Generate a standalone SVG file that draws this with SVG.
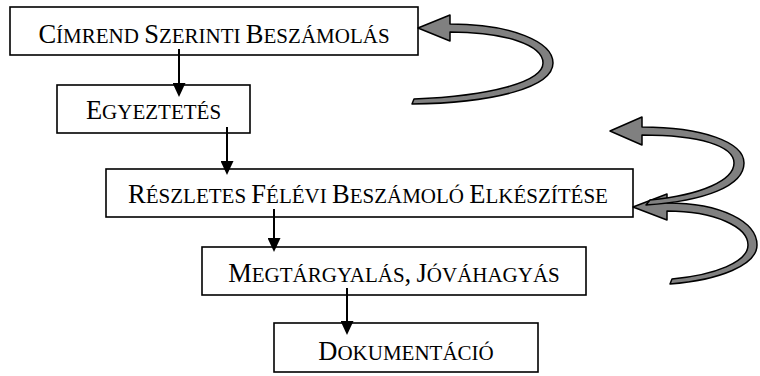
<svg xmlns="http://www.w3.org/2000/svg" width="760" height="376" viewBox="0 0 760 376">
<defs>
<style>
.box{fill:#fff;stroke:#000;stroke-width:1.6}
.lbl{font-family:"Liberation Serif","Times New Roman",serif;font-size:21px;fill:#000;text-anchor:middle}
.cap{font-size:26.5px}
.con{stroke:#000;stroke-width:2;fill:none}
.loop{fill:#808080;stroke:#000;stroke-width:1.5;stroke-linejoin:round}
</style>
<marker id="ah" markerUnits="userSpaceOnUse" markerWidth="14" markerHeight="13" refX="8" refY="6.5" orient="auto">
<path d="M0,0 L14,6.5 L0,13 Z" fill="#000"/>
</marker>
</defs>
<rect width="760" height="376" fill="#fff"/>
<g id="n1">
<rect class="box" x="10" y="7" width="408" height="48"/>
<text class="lbl" x="214" y="43"><tspan class="cap">C</tspan>ÍMREND <tspan class="cap">S</tspan>ZERINTI <tspan class="cap">B</tspan>ESZÁMOLÁS</text>
</g>
<g id="n2">
<rect class="box" x="57" y="85" width="193" height="48"/>
<text class="lbl" x="153.5" y="119"><tspan class="cap">E</tspan>GYEZTETÉS</text>
</g>
<g id="n3">
<rect class="box" x="106" y="169" width="527" height="48"/>
<text class="lbl" x="368" y="203"><tspan class="cap">R</tspan>ÉSZLETES <tspan class="cap">F</tspan>ÉLÉVI <tspan class="cap">B</tspan>ESZÁMOLÓ <tspan class="cap">E</tspan>LKÉSZÍTÉSE</text>
</g>
<g id="n4">
<rect class="box" x="202" y="247" width="384" height="48"/>
<text class="lbl" x="394" y="282"><tspan class="cap">M</tspan>EGTÁRGYALÁS<tspan class="cap">,</tspan> <tspan class="cap">J</tspan>ÓVÁHAGYÁS</text>
</g>
<g id="n5">
<rect class="box" x="274" y="323" width="264" height="49"/>
<text class="lbl" x="406" y="360"><tspan class="cap">D</tspan>OKUMENTÁCIÓ</text>
</g>
<g id="connectors">
<line class="con" x1="179" y1="49" x2="179" y2="91" marker-end="url(#ah)"/>
<line class="con" x1="227" y1="127" x2="227" y2="169" marker-end="url(#ah)"/>
<line class="con" x1="274" y1="209" x2="274" y2="246" marker-end="url(#ah)"/>
<line class="con" x1="347" y1="288" x2="347" y2="329" marker-end="url(#ah)"/>
<path class="loop" d="M418,28 L450,15 L450,24 C512,24 553,42 553,63 C553,87 495,103 412,104 L414,99 C490,96 543,82 543,63 C543,45 505,32 450,32 L450,41 Z"/>
<path class="loop" d="M633,207 L667,194 L667,203 C722,203 757,222 757,245 C757,265 720,280 670,284 L672,279 C715,275 748,262 748,245 C748,227 715,211 667,211 L667,220 Z"/>
<path class="loop" d="M610,131 L642,117 L642,127 C702,127 744,142 744,163 C744,186 705,201 646,205 L650,200 C702,195 734,180 734,163 C734,146 700,135 642,135 L642,145 Z"/>
</g>
</svg>
